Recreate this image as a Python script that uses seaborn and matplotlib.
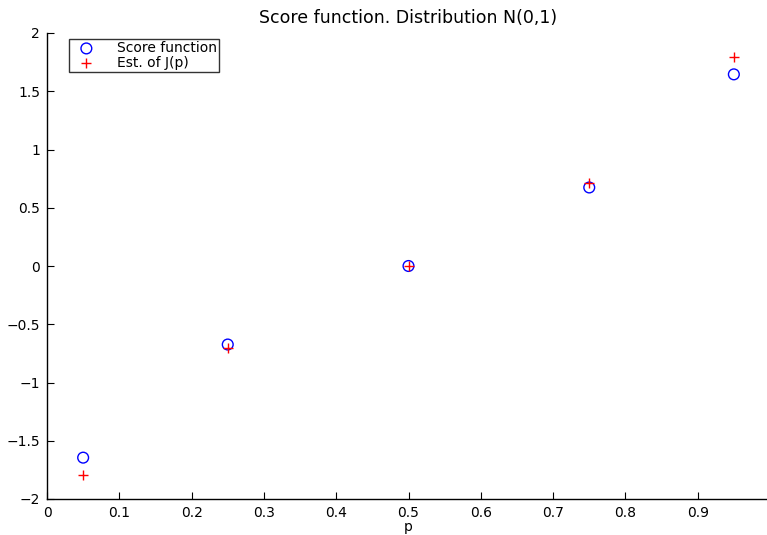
import matplotlib
matplotlib.use("Agg")
import matplotlib.pyplot as plt
import seaborn as sns
import pandas as pd

p = [0.05, 0.25, 0.5, 0.75, 0.95]
score = [-1.645, -0.674, 0.0, 0.674, 1.645]
est = [-1.79, -0.705, 0.0, 0.71, 1.79]
xticks = [0, 0.1, 0.2, 0.3, 0.4, 0.5, 0.6, 0.7, 0.8, 0.9, 1]
yticks = [-2, -1.5, -1, -0.5, 0, 0.5, 1, 1.5, 2]

sns.set_style("white")
plt.rcParams['font.family'] = ['DejaVu Sans']
plt.rcParams['text.color'] = 'black'
plt.rcParams['axes.labelcolor'] = 'black'
plt.rcParams['xtick.color'] = 'black'
plt.rcParams['ytick.color'] = 'black'

fig = plt.figure(figsize=(7.67, 5.35), dpi=100)
ax = fig.add_axes([47/767, 36/535, 723/767, 466/535])

df = pd.DataFrame({"p": p, "score": score, "est": est})
sns.scatterplot(data=df, x="p", y="score", ax=ax, marker="o", s=60,
                facecolors="none", edgecolor="blue", linewidth=1.0,
                label="Score function", zorder=3)
sns.scatterplot(data=df, x="p", y="est", ax=ax, marker="+", s=60,
                color="red", linewidth=1.0, label="Est. of J(p)", zorder=4)

ax.set_xlim(0, 1)
ax.set_ylim(-2, 2)
ax.set_xticks(xticks)
ax.set_xticklabels([("%g" % v) for v in xticks])
ax.set_yticks(yticks)
ax.set_yticklabels([("%g" % v).replace("-", "\u2212") for v in yticks])
ax.tick_params(direction="in", length=5, width=0.8, labelsize=10, colors="black",
               bottom=True, left=True, top=False, right=False, pad=5)
for s in ["top", "right"]:
    ax.spines[s].set_visible(False)
for s in ["left", "bottom"]:
    ax.spines[s].set_color("black")
    ax.spines[s].set_linewidth(1.0)

ax.set_xlabel("p", fontsize=10, labelpad=0, color="black")
ax.set_ylabel("")
ax.set_title("Score function. Distribution N(0,1)", fontsize=12.5, pad=7, color="black")

leg = ax.legend(loc="upper left", bbox_to_anchor=(22/723, 1 - 6/466), frameon=True,
                fancybox=False, edgecolor="black", fontsize=10, borderpad=0.15,
                labelspacing=0.05, handletextpad=1.1, borderaxespad=0, handlelength=2.2)
leg.get_frame().set_linewidth(1.0)
for t in leg.get_texts():
    t.set_color("black")

fig.savefig("out.png", dpi=100)
